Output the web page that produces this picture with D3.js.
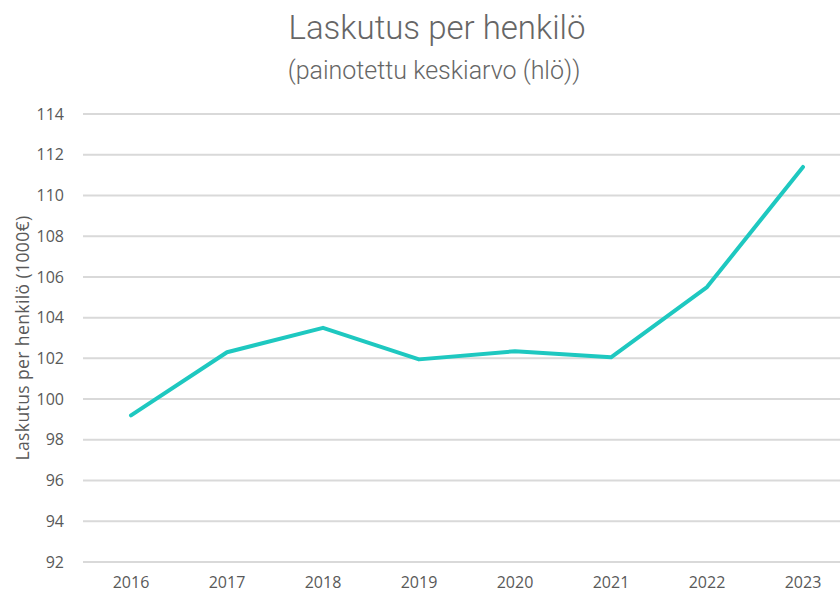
<!DOCTYPE html>
<html><head><meta charset="utf-8">
<script src="https://cdn.jsdelivr.net/npm/d3@7"></script>
<style>body{margin:0;background:#fff}svg{display:block}</style>
</head><body>
<script>
const years = ["2016","2017","2018","2019","2020","2021","2022","2023"];
const values = [99.2, 102.3, 103.5, 101.95, 102.35, 102.05, 105.5, 111.4];
const yTicks = [92,94,96,98,100,102,104,106,108,110,112,114];
const title = "Laskutus per henkilö";
const subtitle = "(painotettu keskiarvo (hlö))";
const yLabel = "Laskutus per henkilö (1000€)";

const W = 840, H = 595;
const svg = d3.select("body").append("svg").attr("width", W).attr("height", H);
const x = d3.scaleBand().domain(years).range([83, 851]);
const y = d3.scaleLinear().domain([92, 114]).range([562, 114]);
const tickFont = "'Open Sans', sans-serif";

svg.append("g").selectAll("line").data(yTicks).join("line")
  .attr("x1", 83).attr("x2", W).attr("y1", d => y(d)).attr("y2", d => y(d))
  .attr("stroke", "#d9d9d9").attr("stroke-width", 2);

svg.append("g").selectAll("text").data(yTicks).join("text")
  .attr("x", 64).attr("y", d => y(d)).attr("dy", "0.35em").attr("text-anchor", "end")
  .attr("font-family", tickFont).attr("font-size", 16)
  .attr("fill", "#595959").text(d => d);

svg.append("g").selectAll("text").data(years).join("text")
  .attr("x", d => x(d) + x.bandwidth()/2).attr("y", 582).attr("dy", "0.35em").attr("text-anchor", "middle")
  .attr("font-family", tickFont).attr("font-size", 16)
  .attr("fill", "#595959").text(d => d);

svg.append("text").attr("transform", "translate(23,338) rotate(-90)")
  .attr("text-anchor", "middle").attr("dy", "0.35em").attr("font-family", tickFont)
  .attr("font-size", 17.5).attr("letter-spacing", 0.4).attr("fill", "#595959").text(yLabel);

svg.append("text").attr("x", 437).attr("y", 39).attr("text-anchor", "middle")
  .attr("font-family", "Roboto, sans-serif").attr("font-weight", 300).attr("font-size", 33).attr("fill", "#666")
  .text(title);
svg.append("text").attr("x", 434).attr("y", 79).attr("text-anchor", "middle")
  .attr("font-family", "Roboto, sans-serif").attr("font-weight", 300).attr("font-size", 25).attr("fill", "#666")
  .text(subtitle);

const line = d3.line().x((d,i) => x(years[i]) + x.bandwidth()/2).y(d => y(d));
svg.append("path").datum(values).attr("d", line).attr("fill", "none")
  .attr("stroke", "#1ec8c0").attr("stroke-width", 4).attr("stroke-linejoin", "round").attr("stroke-linecap", "round");
</script>
</body></html>
